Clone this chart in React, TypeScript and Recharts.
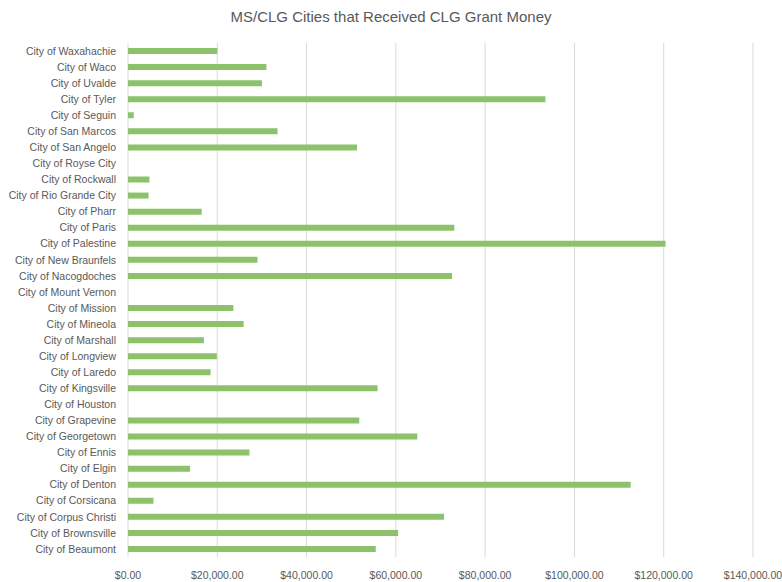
import { Bar, BarChart, CartesianGrid, XAxis, YAxis } from 'recharts';

const cities = [
  'City of Waxahachie', 'City of Waco', 'City of Uvalde', 'City of Tyler', 'City of Seguin',
  'City of San Marcos', 'City of San Angelo', 'City of Royse City', 'City of Rockwall',
  'City of Rio Grande City', 'City of Pharr', 'City of Paris', 'City of Palestine',
  'City of New Braunfels', 'City of Nacogdoches', 'City of Mount Vernon', 'City of Mission',
  'City of Mineola', 'City of Marshall', 'City of Longview', 'City of Laredo',
  'City of Kingsville', 'City of Houston', 'City of Grapevine', 'City of Georgetown',
  'City of Ennis', 'City of Elgin', 'City of Denton', 'City of Corsicana',
  'City of Corpus Christi', 'City of Brownsville', 'City of Beaumont'
];

const grants = [
  20000, 31000, 30000, 93500, 1300,
  33500, 51300, 0, 4800,
  4600, 16500, 73100, 120400,
  29000, 72600, 0, 23600,
  25900, 17000, 19900, 18500,
  55900, 0, 51800, 64800,
  27200, 13900, 112600, 5700,
  70800, 60500, 55500
];

const xTicks = [0, 20000, 40000, 60000, 80000, 100000, 120000, 140000];

const data = cities.map((city, i) => ({ city, amount: grants[i] }));

const textColor = '#595959';
const font = '"Liberation Sans", Arial, sans-serif';

const money = (v: number) =>
  '$' + v.toLocaleString('en-US', { minimumFractionDigits: 2, maximumFractionDigits: 2 });

// plain ticks so long city names never wrap
function CityTick({ x, y, payload }: any) {
  return (
    <text x={x - 4} y={y} dy="0.35em" textAnchor="end" fill={textColor} fontSize={10.5} fontFamily={font}>
      {payload.value}
    </text>
  );
}

function MoneyTick({ x, y, payload }: any) {
  return (
    <text x={x} y={y + 14} textAnchor="middle" fill={textColor} fontSize={10.5} fontFamily={font}>
      {money(payload.value)}
    </text>
  );
}

export default function App() {
  return (
    <div style={{ position: 'absolute', left: 0, top: 0, width: 782, height: 582, background: '#fff', fontFamily: font }}>
      <div
        style={{
          position: 'absolute',
          top: 8,
          left: 0,
          width: 782,
          textAlign: 'center',
          fontSize: 15,
          color: textColor
        }}
      >
        MS/CLG Cities that Received CLG Grant Money
      </div>
      <BarChart
        width={782}
        height={582}
        data={data}
        layout="vertical"
        margin={{ top: 43, right: 29, bottom: 0, left: 0 }}
      >
        <CartesianGrid stroke="#d9d9d9" horizontal={false} />
        <XAxis
          type="number"
          domain={[0, 140000]}
          ticks={xTicks}
          axisLine={false}
          tickLine={false}
          height={25}
          tick={<MoneyTick />}
        />
        <YAxis
          type="category"
          dataKey="city"
          width={128}
          interval={0}
          axisLine={false}
          tickLine={false}
          tick={<CityTick />}
        />
        <Bar dataKey="amount" fill="#8dc26c" barSize={6} isAnimationActive={false} />
      </BarChart>
    </div>
  );
}
